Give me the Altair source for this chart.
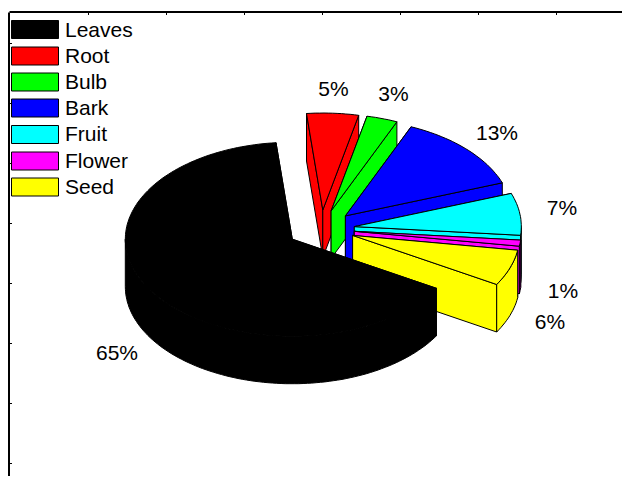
import math
import altair as alt
import pandas as pd

# ---- chart data
categories = ["Leaves", "Root", "Bulb", "Bark", "Fruit", "Flower", "Seed"]
shares = [65, 5, 3, 13, 7, 1, 6]
colors = ["#000000", "#ff0000", "#00ff00", "#0000ff", "#00ffff", "#ff00ff", "#ffff00"]
pct_labels = ["65%", "5%", "3%", "13%", "7%", "1%", "6%"]

# ---- layout (page pixels)
pct_x = [117, 333.5, 393.5, 497, 562, 563, 550]
pct_y = [354, 90, 95, 134, 209, 292, 323]
legend_rows = [30.5, 56.5, 83, 109, 135, 161.5, 188]
swatch_rows = [29.5, 56, 82, 108, 134.5, 161, 187]
y_tick_values = [43, 73, 103, 133, 163, 193, 223, 253, 283, 313, 343, 373, 403, 433, 463]
x_tick_values = [88, 166, 244, 322, 400, 478, 556]
CX, CY, RX, RY, DEPTH = 320.8, 229.0, 167.0, 97.0, 47.5
EXPLODE_X, EXPLODE_Y = 33.8, 19.0
START_ANGLE = 120.4
FONT = "Liberation Sans"
PLOT_X0, PLOT_Y0, PLOT_W, PLOT_H = 9, 12, 614, 468


def build_polygons():
    rows, seq, poly = [], 0, 0
    angle = START_ANGLE
    order = [1, 2, 3, 4, 5, 6, 0]
    spans = {}
    for i, share in enumerate(shares):
        start = angle - 360 if angle >= 360 else angle
        spans[i] = (start, start + share * 3.6)
        angle += share * 3.6

    def point(ax, ay, deg):
        t = math.radians(deg)
        return (ax + RX * math.sin(t), ay - RY * math.cos(t))

    def sweep(ax, ay, a0, a1):
        n = max(2, int((a1 - a0) / 1.5))
        return [point(ax, ay, a0 + (a1 - a0) * j / n) for j in range(n + 1)]

    for i in order:
        a0, a1 = spans[i]
        mid = math.radians((a0 + a1) / 2)
        ax = CX + EXPLODE_X * math.sin(mid)
        ay = CY - EXPLODE_Y * math.cos(mid)
        arc = sweep(ax, ay, a0, a1)
        low = lambda p: (p[0], p[1] + DEPTH)
        apex = (ax, ay)
        shapes = [
            [apex, arc[0], low(arc[0]), low(apex)],
            [apex, arc[-1], low(arc[-1]), low(apex)],
        ]
        # outer wall: only the front-facing part of the rim (90..270 degrees)
        f0, f1 = max(a0, 90.0), min(a1, 270.0)
        if f1 > f0:
            front = sweep(ax, ay, f0, f1)
            shapes.append(front + [low(p) for p in reversed(front)])
        shapes.append([apex] + arc)
        for shape in shapes:
            poly += 1
            for p in shape + [shape[0]]:
                seq += 1
                rows.append({"part": categories[i], "poly": f"p{poly:03d}", "seq": seq,
                             "px": round(p[0], 1), "py": round(p[1], 1)})
    return pd.DataFrame(rows)


x_scale = alt.Scale(domain=[PLOT_X0, PLOT_X0 + PLOT_W], range=[0, PLOT_W], nice=False, zero=False)
y_scale = alt.Scale(domain=[PLOT_Y0 + PLOT_H, PLOT_Y0], range=[PLOT_H, 0], nice=False, zero=False)
x_axis = alt.Axis(orient="bottom", offset=-(PLOT_H - 3.5), values=x_tick_values, labels=False, title=None,
                  grid=False, tickSize=3, tickColor="black", domainColor="black", domainWidth=2, tickWidth=1)
y_axis = alt.Axis(orient="right", offset=-(PLOT_W - 0.5), values=y_tick_values, labels=False, title=None,
                  grid=False, tickSize=3, tickColor="black", domainColor="black", domainWidth=2, tickWidth=1)
fill_scale = alt.Scale(domain=categories, range=colors)

pie = alt.Chart(build_polygons()).mark_line(stroke="black", strokeWidth=1, clip=False).encode(
    x=alt.X("px:Q", scale=x_scale, axis=x_axis),
    y=alt.Y("py:Q", scale=y_scale, axis=y_axis),
    fill=alt.Fill("part:N", scale=fill_scale, legend=None),
    detail="poly:N",
    order=alt.Order("seq:Q"),
)

pct_df = pd.DataFrame({"label": pct_labels, "px": pct_x, "py": pct_y})
pct = alt.Chart(pct_df).mark_text(font=FONT, fontSize=21, color="black").encode(
    x=alt.X("px:Q", scale=x_scale), y=alt.Y("py:Q", scale=y_scale), text="label:N"
)

legend_df = pd.DataFrame({"cat": categories, "row": legend_rows, "swatch": swatch_rows})
legend_df["top"] = legend_df["swatch"] - 9
legend_df["bot"] = legend_df["swatch"] + 9
legend_df["sx0"] = 11.5
legend_df["sx1"] = 58.5
legend_df["tx"] = 65
swatches = alt.Chart(legend_df).mark_rect(stroke="black", strokeWidth=1).encode(
    x=alt.X("sx0:Q", scale=x_scale), x2="sx1:Q",
    y=alt.Y("top:Q", scale=y_scale), y2="bot:Q",
    fill=alt.Fill("cat:N", scale=fill_scale, legend=None),
)
legend_text = alt.Chart(legend_df).mark_text(font=FONT, fontSize=21, align="left", color="black").encode(
    x=alt.X("tx:Q", scale=x_scale), y=alt.Y("row:Q", scale=y_scale), text="cat:N"
)

chart = alt.layer(pie, swatches, legend_text, pct).properties(
    width=PLOT_W, height=PLOT_H,
    padding={"left": 1, "top": 4, "right": 0, "bottom": 0},
    autosize=alt.AutoSizeParams(type="none", contains="padding"),
    background="white",
).configure_view(stroke=None)

chart.save("out.html", embed_options={"renderer": "svg", "actions": False})
